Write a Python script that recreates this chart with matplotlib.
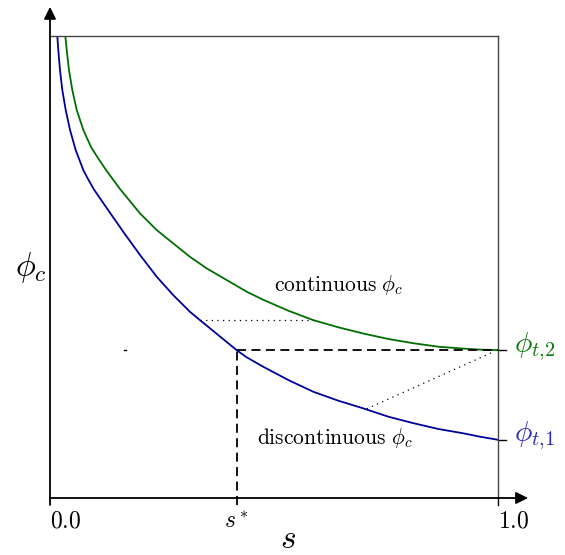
import numpy as np
import matplotlib
matplotlib.use('Agg')
import matplotlib.pyplot as plt

plt.rcParams['mathtext.fontset'] = 'cm'
plt.rcParams['font.family'] = 'serif'
plt.rcParams['font.serif'] = ['DejaVu Serif']

# curves (s, phi), phi scaled 0..1 inside the box
s_blue = [0.0163, 0.0185, 0.0223, 0.0275, 0.0350, 0.0446, 0.0574, 0.0743, 0.0848,
          0.0982, 0.1116, 0.1266, 0.1636, 0.2009, 0.2382, 0.2752, 0.3125, 0.3348,
          0.4167, 0.4391, 0.4761, 0.5319, 0.5877, 0.6435, 0.6993, 0.7551, 0.8109,
          0.8667, 0.9225, 0.9598, 1.0]
phi_blue = [1.000, 0.970, 0.926, 0.883, 0.840, 0.797, 0.753, 0.710, 0.6905,
            0.6677, 0.6487, 0.6277, 0.576, 0.526, 0.479, 0.439, 0.403, 0.385,
            0.320, 0.3045, 0.284, 0.2554, 0.230, 0.2106, 0.194, 0.1760, 0.162,
            0.1494, 0.140, 0.1327, 0.126]
s_green = [0.0342, 0.0373, 0.0424, 0.0498, 0.0596, 0.0743, 0.0915, 0.1071, 0.1250,
           0.1563, 0.2009, 0.2382, 0.2752, 0.3125, 0.3498, 0.3868, 0.4241, 0.4391,
           0.4761, 0.5319, 0.5877, 0.6435, 0.6993, 0.7551, 0.8109, 0.8667, 0.9225,
           0.9598, 1.0]
phi_green = [1.000, 0.970, 0.926, 0.883, 0.840, 0.797, 0.7597, 0.7359, 0.7100,
             0.6688, 0.616, 0.580, 0.551, 0.522, 0.497, 0.476, 0.455, 0.4465,
             0.429, 0.4054, 0.385, 0.3695, 0.356, 0.3442, 0.335, 0.3275, 0.3234,
             0.3212, 0.320]

s_star = 0.4167
phi_t2 = 0.320
phi_t1 = 0.126
dotted_h = ([0.3348, 0.5877], [0.385, 0.385])   # blue -> green at same phi
dotted_d = ([0.707, 0.989], [0.193, 0.316])     # blue -> phi_t2

fig = plt.figure(figsize=(5.65, 5.55), dpi=100)
ax = fig.add_axes([50/565, 57/555, 448/565, 462/555])
ax.set_xlim(0, 1)
ax.set_ylim(0, 1)

ax.plot(s_blue, phi_blue, color='#00009a', lw=1.3)
ax.plot(s_green, phi_green, color='#006e00', lw=1.3)

# dashed guide lines
ax.plot([s_star, 1.0], [phi_t2, phi_t2], 'k--', lw=1.3, dashes=(5, 3))
ax.plot([s_star, s_star], [-0.015, phi_t2], 'k--', lw=1.3, dashes=(5, 3), clip_on=False)
ax.plot([1.0, 1.018], [phi_t2, phi_t2], 'k-', lw=1.0, clip_on=False)
ax.plot([1.0, 1.018], [phi_t1, phi_t1], 'k-', lw=1.0, clip_on=False)
ax.plot([0.165, 0.170], [phi_t2, phi_t2], 'k-', lw=1.0)

ax.plot(*dotted_h, color='k', ls=(0, (1, 3.5)), lw=0.9)
ax.plot(*dotted_d, color='k', ls=(0, (1, 3.5)), lw=0.9)

# box and axes
for side in ['top', 'right']:
    ax.spines[side].set_color('#444444')
    ax.spines[side].set_linewidth(1.0)
ax.spines['left'].set_visible(False)
ax.spines['bottom'].set_visible(False)
ax.plot([1.0, 1.0], [-0.015, 0], color='k', lw=1.0, clip_on=False)
ax.annotate('', xy=(0, 1.063), xytext=(0, -0.015), xycoords='axes fraction',
            arrowprops=dict(arrowstyle='-|>', color='k', lw=1.3, mutation_scale=18,
                            shrinkA=0, shrinkB=0))
ax.annotate('', xy=(1.067, 0), xytext=(0, 0), xycoords='axes fraction',
            arrowprops=dict(arrowstyle='-|>', color='k', lw=1.3, mutation_scale=18,
                            shrinkA=0, shrinkB=0))
ax.set_xticks([])
ax.set_yticks([])

# labels
ax.text(0.0, -0.025, r'$0.0$', ha='left', va='top', fontsize=17)
ax.text(1.0, -0.025, r'$1.0$', ha='left', va='top', fontsize=17)
ax.text(s_star, -0.025, r'$s^*$', ha='center', va='top', fontsize=17)
ax.text(0.531, -0.088, r'$s$', ha='center', va='center', fontsize=24)
ax.text(-0.008, 0.498, r'$\phi_c$', ha='right', va='center', fontsize=24)
ax.text(1.035, phi_t2 + 0.008, r'$\phi_{t,\!2}$', ha='left', va='center', fontsize=21, color='#0a780a')
ax.text(1.035, phi_t1 + 0.008, r'$\phi_{t,\!1}$', ha='left', va='center', fontsize=21, color='#2828b4')
ax.text(0.644, 0.462, r'$\mathrm{continuous}\ \phi_c$', ha='center', va='center', fontsize=15.5)
ax.text(0.636, 0.13, r'$\mathrm{discontinuous}\ \phi_c$', ha='center', va='center', fontsize=15.5)

fig.savefig('out.png', dpi=100)
